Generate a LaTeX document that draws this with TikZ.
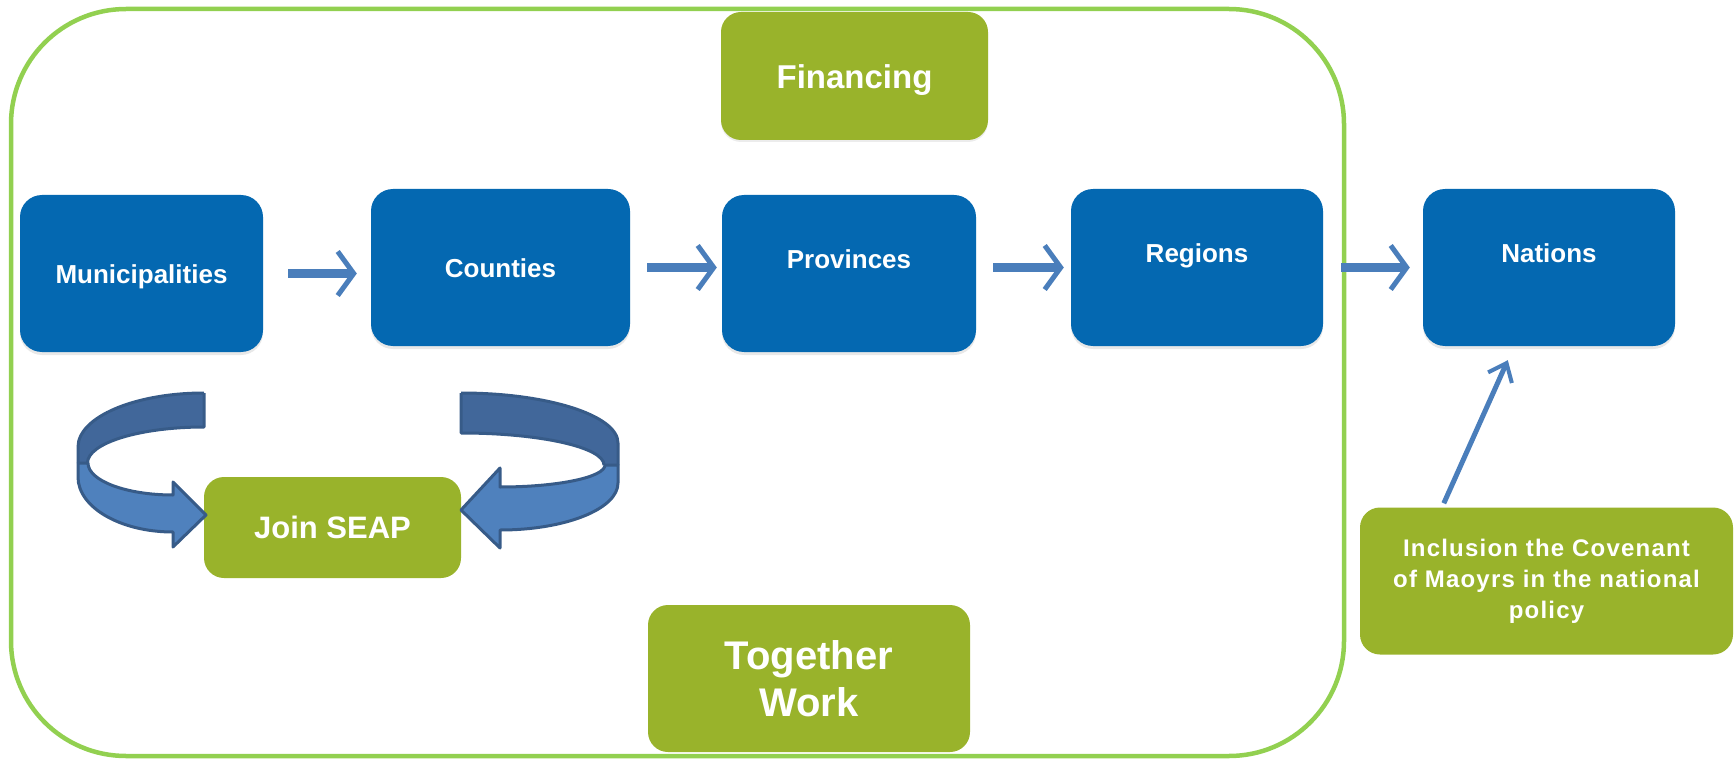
\documentclass[tikz,border=0pt]{standalone}
\usepackage{fontspec}
\setmainfont{Liberation Sans}
\usetikzlibrary{arrows.meta,calc,shadows}
\definecolor{boxblue}{HTML}{0468B1}
\definecolor{leaf}{HTML}{99B32B}
\definecolor{framegreen}{HTML}{92D050}
\definecolor{arrowblue}{HTML}{4A7EBB}
\definecolor{ribbonback}{HTML}{41679A}
\definecolor{ribbonfront}{HTML}{4F81BD}
\definecolor{ribbonline}{HTML}{375B88}
\begin{document}
\begin{tikzpicture}[x=1pt,y=-1pt,
  bluebox/.style={fill=boxblue, rounded corners=22pt, inner sep=0pt, text=white,
    font=\bfseries\fontsize{26}{31}\selectfont, minimum height=157pt,
    text height=25pt, text depth=5pt,
    drop shadow={opacity=0.18, shadow xshift=0pt, shadow yshift=-3pt}},
  greenbox/.style={fill=leaf, rounded corners=20pt, inner sep=0pt, text=white, align=center},
  flowarrow/.style={draw=arrowblue, line width=9pt,
    -{Straight Barb[length=16pt, width=44pt, line width=5pt]}},
  linkarrow/.style={draw=arrowblue, line width=5pt,
    -{Straight Barb[length=16pt, width=26pt, line width=4pt]}},
  ribbon/.style={draw=ribbonline, line width=3pt, line join=round}
]
\useasboundingbox (0,0) rectangle (1734,759);

% big frame
\draw[framegreen, line width=4.5pt, rounded corners=115pt] (11,9) rectangle (1344,756);

% blue boxes
\node[bluebox, minimum width=243pt] (mun) at (141.5,273.5) {Municipalities};
\node[bluebox, minimum width=259pt] (cou) at (500.5,267.5) {Counties};
\node[bluebox, minimum width=254pt] (prov) at (849,273.5) {\raisebox{15pt}[\height][\depth]{Provinces}};
\node[bluebox, minimum width=252pt] (reg) at (1197,267.5) {\raisebox{14.5pt}[\height][\depth]{Regions}};
\node[bluebox, minimum width=252pt] (nat) at (1549,267.5) {\raisebox{15.5pt}[\height][\depth]{Nations}};

% green boxes
\node[greenbox, minimum width=267pt, minimum height=128pt,
  font=\bfseries\fontsize{33}{40}\selectfont,
  drop shadow={opacity=0.15, shadow xshift=0pt, shadow yshift=-2pt}] (fin) at (854.5,76)
  {\raisebox{-4pt}[\height][\depth]{Financing}};
\node[greenbox, minimum width=257pt, minimum height=101pt,
  font=\bfseries\fontsize{31}{37}\selectfont] (seap) at (332.5,527.5) {Join SEAP};
\node[greenbox, minimum width=322pt, minimum height=147pt,
  font=\bfseries\fontsize{40}{47}\selectfont] (tog) at (809,678.5) {Together\\Work};
\node[greenbox, minimum width=373pt, minimum height=147pt,
  font=\bfseries\fontsize{24}{31}\selectfont\addfontfeatures{LetterSpace=5}] (incl) at (1546.5,581)
  {Inclusion the Covenant\\of Maoyrs in the national\\policy};

% flow arrows
\draw[flowarrow] ($(mun.east)+(25,0)$) -- ($(mun.east -| cou.west)+(-14,0)$);
\draw[flowarrow] ($(cou.east)+(17,0)$) -- ($(cou.east -| prov.west)+(-5,0)$);
\draw[flowarrow] ($(reg.west -| prov.east)+(17,0)$) -- ($(reg.west)+(-7,0)$);
\draw[flowarrow] ($(reg.east)+(18,0)$) -- ($(nat.west)+(-13,0)$);

% inclusion -> nations
\draw[linkarrow] ([xshift=84pt,yshift=4pt]incl.north west) -- ([xshift=85pt,yshift=-14pt]nat.south west);

% left curved arrow
\fill[ribbonback] (204,393) .. controls (134.4,393) and (78,417.2) .. (78,447) -- (78,463) -- (87.5,463)
  .. controls (87.5,443.1) and (139.7,427) .. (204,427) -- cycle;
\draw[ribbon] (204,393) .. controls (134.4,393) and (78,417.2) .. (78,447) -- (78,463)
  (87.5,463) .. controls (87.5,443.1) and (139.7,427) .. (204,427) -- (204,393);
\filldraw[ribbon, fill=ribbonfront] (78,463) -- (78,477) .. controls (78,507.4) and (120.5,532) .. (173,532)
  -- (173,547) -- (206,515) -- (173,482) -- (173,495)
  .. controls (126.1,495) and (88,480.7) .. (88,463) -- cycle;

% right curved arrow
\fill[ribbonback] (461,393) .. controls (547.7,393) and (618,415.4) .. (618,443) -- (618,465) -- (604,465)
  .. controls (604,447.3) and (540,433) .. (461,433) -- cycle;
\draw[ribbon] (461,393) .. controls (547.7,393) and (618,415.4) .. (618,443) -- (618,465)
  (604,465) .. controls (604,447.3) and (540,433) .. (461,433) -- (461,393);
\filldraw[ribbon, fill=ribbonfront] (618,465) -- (618,483) .. controls (618,509) and (565.2,530) .. (500,530)
  -- (500,548) -- (461,510) -- (500,468) -- (500,487)
  .. controls (558,487) and (605,477.2) .. (605,465) -- cycle;
\end{tikzpicture}
\end{document}
